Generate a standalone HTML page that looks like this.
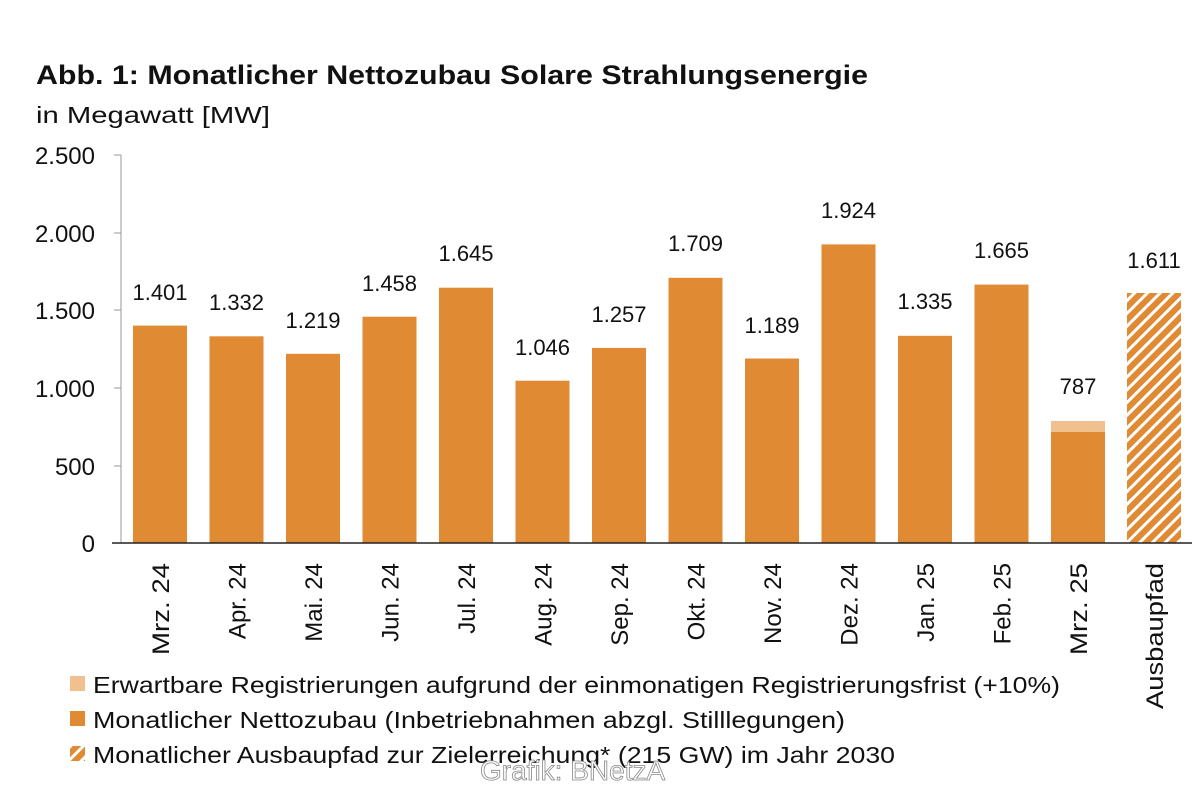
<!DOCTYPE html>
<html><head><meta charset="utf-8"><style>
html,body{margin:0;padding:0;background:#fff;}
svg{display:block;font-family:"Liberation Sans",sans-serif;}
</style></head><body>
<svg width="1200" height="800" viewBox="0 0 1200 800" xmlns="http://www.w3.org/2000/svg">
<defs>
<pattern id="h" patternUnits="userSpaceOnUse" width="9" height="9" patternTransform="rotate(45)">
<rect width="9" height="9" fill="#e08a33"/>
<rect x="0" y="0" width="3" height="9" fill="#fff"/>
</pattern>
</defs>
<rect width="1200" height="800" fill="#fff"/>
<text x="36" y="84" font-size="27" font-weight="bold" fill="#111" textLength="832" lengthAdjust="spacingAndGlyphs">Abb. 1: Monatlicher Nettozubau Solare Strahlungsenergie</text>
<text x="36" y="123" font-size="23" fill="#111" textLength="234" lengthAdjust="spacingAndGlyphs">in Megawatt [MW]</text>
<g font-size="24" fill="#111" text-anchor="end">
<text x="95" y="164">2.500</text>
<text x="95" y="242">2.000</text>
<text x="95" y="319">1.500</text>
<text x="95" y="397">1.000</text>
<text x="95" y="475">500</text>
<text x="95" y="552">0</text>
</g>
<line x1="121" y1="155" x2="121" y2="543" stroke="#999" stroke-width="1"/>
<g stroke="#999"><line x1="114" y1="155" x2="121" y2="155"/><line x1="114" y1="233" x2="121" y2="233"/><line x1="114" y1="310" x2="121" y2="310"/><line x1="114" y1="388" x2="121" y2="388"/><line x1="114" y1="466" x2="121" y2="466"/></g>
<g fill="#e08a33">
<rect x="133" y="325.6" width="54" height="217.4"/>
<rect x="209.5" y="336.3" width="54" height="206.7"/>
<rect x="286" y="353.8" width="54" height="189.2"/>
<rect x="362.5" y="316.7" width="54" height="226.3"/>
<rect x="439" y="287.7" width="54" height="255.3"/>
<rect x="515.5" y="380.7" width="54" height="162.3"/>
<rect x="592" y="347.9" width="54" height="195.1"/>
<rect x="668.5" y="277.8" width="54" height="265.2"/>
<rect x="745" y="358.5" width="54" height="184.5"/>
<rect x="821.5" y="244.4" width="54" height="298.6"/>
<rect x="898" y="335.8" width="54" height="207.2"/>
<rect x="974.5" y="284.6" width="54" height="258.4"/>
<rect x="1051" y="432" width="54" height="111"/>
</g>
<rect x="1051" y="421" width="54" height="11" fill="#f0c08e"/>
<rect x="1127" y="293" width="54" height="250" fill="url(#h)"/>
<line x1="112" y1="543" x2="1192" y2="543" stroke="#222" stroke-width="1.5"/>
<g font-size="22" fill="#111" text-anchor="middle">
<text x="160" y="300">1.401</text>
<text x="236.5" y="310">1.332</text>
<text x="313" y="328">1.219</text>
<text x="389.5" y="291">1.458</text>
<text x="466" y="261">1.645</text>
<text x="542.5" y="355">1.046</text>
<text x="619" y="322">1.257</text>
<text x="695.5" y="251">1.709</text>
<text x="772" y="333">1.189</text>
<text x="848.5" y="218">1.924</text>
<text x="925" y="309">1.335</text>
<text x="1001.5" y="258">1.665</text>
<text x="1078" y="394">787</text>
<text x="1154" y="268">1.611</text>
</g>
<g font-size="24" fill="#111" text-anchor="end">
<text transform="translate(169,563) rotate(-90)" textLength="92" lengthAdjust="spacingAndGlyphs">Mrz. 24</text>
<text transform="translate(245.5,563) rotate(-90)">Apr. 24</text>
<text transform="translate(322,563) rotate(-90)">Mai. 24</text>
<text transform="translate(398.5,563) rotate(-90)">Jun. 24</text>
<text transform="translate(475,563) rotate(-90)">Jul. 24</text>
<text transform="translate(551.5,563) rotate(-90)">Aug. 24</text>
<text transform="translate(628,563) rotate(-90)">Sep. 24</text>
<text transform="translate(704.5,563) rotate(-90)">Okt. 24</text>
<text transform="translate(781,563) rotate(-90)">Nov. 24</text>
<text transform="translate(857.5,563) rotate(-90)">Dez. 24</text>
<text transform="translate(934,563) rotate(-90)">Jan. 25</text>
<text transform="translate(1010.5,563) rotate(-90)">Feb. 25</text>
<text transform="translate(1087,563) rotate(-90)" textLength="92" lengthAdjust="spacingAndGlyphs">Mrz. 25</text>
<text transform="translate(1163,563) rotate(-90)" textLength="146" lengthAdjust="spacingAndGlyphs">Ausbaupfad</text>
</g>
<rect x="70" y="676" width="15" height="15" fill="#f0c08e"/>
<rect x="70" y="711" width="15" height="15" fill="#e08a33"/>
<rect x="70" y="746" width="15" height="15" fill="url(#h)"/>
<g font-size="23" fill="#111">
<text x="93" y="693" textLength="967" lengthAdjust="spacingAndGlyphs">Erwartbare Registrierungen aufgrund der einmonatigen Registrierungsfrist (+10%)</text>
<text x="93" y="728" textLength="752" lengthAdjust="spacingAndGlyphs">Monatlicher Nettozubau (Inbetriebnahmen abzgl. Stilllegungen)</text>
<text x="93" y="763" textLength="802" lengthAdjust="spacingAndGlyphs">Monatlicher Ausbaupfad zur Zielerreichung* (215 GW) im Jahr 2030</text>
</g>
<text x="480" y="780" font-size="28" fill="#fff" stroke="#888" stroke-width="0.8">Grafik: BNetzA</text>
</svg>
</body></html>
